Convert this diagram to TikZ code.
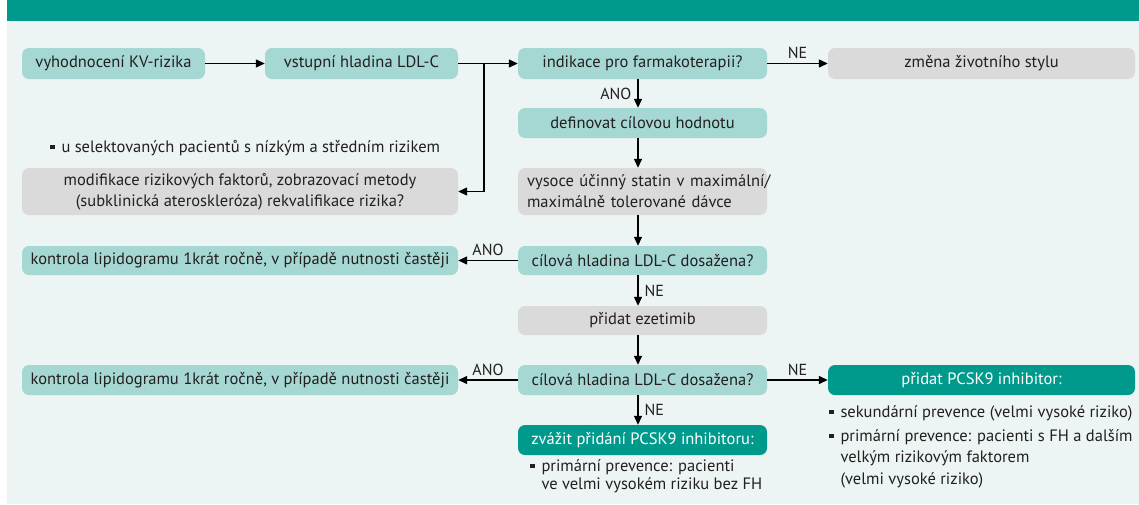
\documentclass[tikz,border=0pt]{standalone}
\usepackage{fontspec}
\setmainfont{PT Sans}
\usetikzlibrary{arrows.meta}
\definecolor{dteal}{HTML}{009A8C}
\definecolor{lteal}{HTML}{A6D8D3}
\definecolor{greybox}{HTML}{DADADA}
\definecolor{bgmint}{HTML}{ECF5F3}
\definecolor{txt}{HTML}{231F20}
\newcommand{\mybul}{\rule[2.6pt]{4.8pt}{4.8pt}\hspace{6.5pt}}
\tikzset{
  box/.style={rounded corners=7pt, inner sep=0pt, minimum height=31pt,
    font=\fontsize{16.5}{21}\selectfont, text=txt, align=center},
  lbox/.style={box, fill=lteal},
  gbox/.style={box, fill=greybox},
  dbox/.style={box, fill=dteal, text=white},
  arr/.style={-{Triangle[length=9pt,width=8pt]}, line width=1.3pt, draw=black},
  lab/.style={font=\fontsize{16}{18}\selectfont, text=txt, inner sep=0pt},
  bl/.style={font=\fontsize{16.5}{18}\selectfont, text=txt, inner sep=0pt,
    anchor=west, text height=12pt, text depth=4pt},
}
\begin{document}
\begin{tikzpicture}[x=1pt,y=-1pt]
\useasboundingbox (0,0) rectangle (1139,504);
\fill[white] (0,0) rectangle (1139,504);
\fill[bgmint] (7,21) rectangle (1139,504);
\fill[dteal] (7,0) rectangle (1139,21);

\node[lbox, minimum width=183pt] (a) at (113.5,63.5) {vyhodnocení KV-rizika};
\node[lbox, minimum width=193pt] (b) at (361.5,63.5) {vstupní hladina LDL-C};
\node[lbox, minimum width=249pt] (c) at (642.5,63.5) {indikace pro farmakoterapii?};
\node[gbox, minimum width=307pt] (d) at (981.5,63.5) {změna životního stylu};
\node[lbox, minimum width=249pt, minimum height=30pt] (e) at (642.5,123) {definovat cílovou hodnotu};
\node[gbox, minimum width=249pt, minimum height=47pt, inner xsep=9pt, text width=231pt, align=left] (f) at (642.5,191.5) {\mbox{vysoce účinný statin v maximální/}\\\mbox{maximálně tolerované dávce}};
\node[gbox, minimum width=436pt, minimum height=47pt] (g) at (240,191.5) {modifikace rizikových faktorů, zobrazovací metody\\(subklinická ateroskleróza) rekvalifikace rizika?};
\node[bl] (gnote) at (50,148) {\mybul u selektovaných pacientů s nízkým a středním rizikem};
\node[lbox, minimum width=249pt, minimum height=29pt] (h) at (642.5,260.5) {cílová hladina LDL-C dosažena?};
\node[lbox, minimum width=436pt, minimum height=29pt] (i) at (240,260.5) {kontrola lipidogramu 1krát ročně, v případě nutnosti častěji};
\node[gbox, minimum width=249pt, minimum height=29pt] (j) at (642.5,320.5) {přidat ezetimib};
\node[lbox, minimum width=249pt, minimum height=30pt] (k) at (642.5,380) {cílová hladina LDL-C dosažena?};
\node[lbox, minimum width=436pt, minimum height=30pt] (l) at (240,380) {kontrola lipidogramu 1krát ročně, v případě nutnosti častěji};
\node[dbox, minimum width=307pt, minimum height=30pt] (m) at (981.5,380) {přidat PCSK9 inhibitor:};
\node[dbox, minimum width=249pt, minimum height=30pt] (n) at (642.5,440) {zvážit přidání PCSK9 inhibitoru:};

\node[bl] (n1) at (530,467) {\mybul primární prevence: pacienti};
\node[bl] (n2) at (541.3,485) {ve velmi vysokém riziku bez FH};
\node[bl] (m1) at (829,413) {\mybul sekundární prevence (velmi vysoké riziko)};
\node[bl] (m2) at (829,437) {\mybul primární prevence: pacienti s FH a dalším};
\node[bl] (m3) at (840.3,458) {velkým rizikovým faktorem};
\node[bl] (m4) at (840.3,480) {(velmi vysoké riziko)};

\coordinate (br) at (484,63.5);
\draw[arr] (a.east) -- (b.west);
\draw[arr] (b.east) -- (c.west);
\draw[arr] (br) |- (g.east);
\draw[arr] (c.east) -- node[lab, above=4pt] (ne1) {NE} (d.west);
\draw[arr] ([xshift=-4.5pt]c.south) -- node[lab, left=6pt] (ano1) {ANO} ([xshift=-4.5pt]e.north);
\draw[arr] ([xshift=-4.5pt]e.south) -- ([xshift=-4.5pt]f.north);
\draw[arr] ([xshift=-4.5pt]f.south) -- ([xshift=-4.5pt]h.north);
\draw[arr] (h.west) -- node[lab, above=4pt] (ano2) {ANO} (i.east);
\draw[arr] ([xshift=-4.5pt]h.south) -- node[lab, right=6pt] (ne2) {NE} ([xshift=-4.5pt]j.north);
\draw[arr] ([xshift=-4.5pt]j.south) -- ([xshift=-4.5pt]k.north);
\draw[arr] (k.west) -- node[lab, above=4pt] (ano3) {ANO} (l.east);
\draw[arr] (k.east) -- node[lab, above=4pt] (ne3) {NE} (m.west);
\draw[arr] ([xshift=-4.5pt]k.south) -- node[lab, right=6pt] (ne4) {NE} ([xshift=-4.5pt]n.north);
\end{tikzpicture}
\end{document}
